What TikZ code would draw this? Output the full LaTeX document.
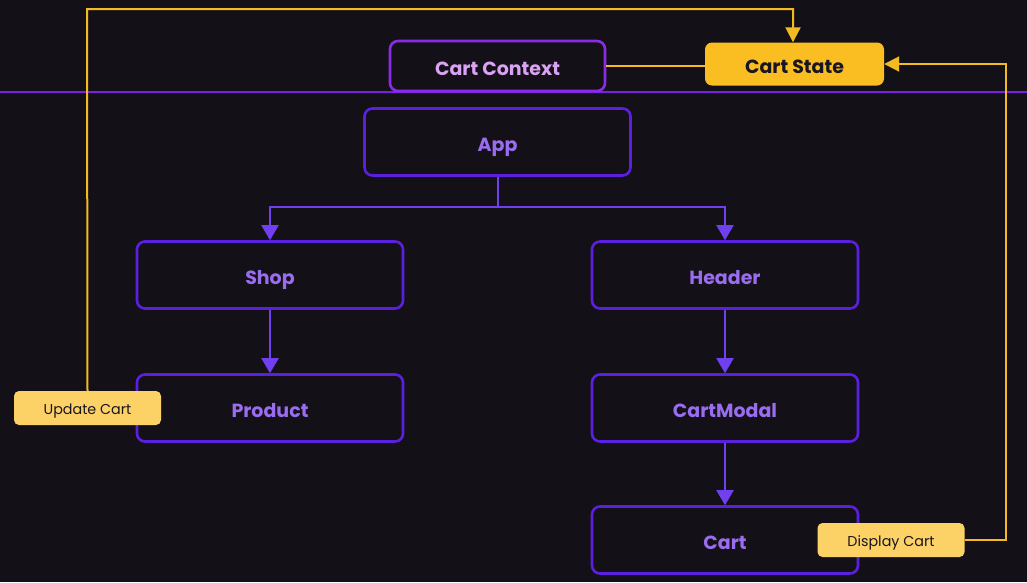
\documentclass[tikz,border=0pt]{standalone}
\usepackage{fontspec}
\setmainfont{Poppins}
\usetikzlibrary{arrows.meta}
\definecolor{bg}{HTML}{131117}
\definecolor{nodeborder}{HTML}{5B1FE0}
\definecolor{nodetext}{HTML}{9A6CF0}
\definecolor{ctxborder}{HTML}{8B2BE8}
\definecolor{ctxtext}{HTML}{D9A2F2}
\definecolor{divider}{HTML}{7A1FE6}
\definecolor{arrowpurple}{HTML}{7040F0}
\definecolor{statefill}{HTML}{FBBE22}
\definecolor{labelfill}{HTML}{FCD266}
\definecolor{yel}{HTML}{F3BA22}
\definecolor{darktext}{HTML}{1A1620}
\tikzset{
  comp/.style={draw=nodeborder, line width=2.6pt, rounded corners=8pt, fill=bg,
    minimum width=266pt, minimum height=67pt, text=nodetext,
    font=\fontsize{19}{22}\selectfont\bfseries, inner sep=0pt,
    text height=18pt, text depth=0pt},
  ctx/.style={draw=ctxborder, line width=2.6pt, rounded corners=8pt, fill=bg,
    minimum width=215pt, minimum height=50pt, text=ctxtext,
    font=\fontsize{19}{22}\selectfont\bfseries, inner sep=0pt,
    text height=18pt, text depth=0pt},
  statebox/.style={fill=statefill, rounded corners=7pt, minimum width=179pt,
    minimum height=43pt, text=darktext, font=\fontsize{19}{22}\selectfont\bfseries,
    inner sep=0pt, text height=18pt, text depth=0pt},
  tag/.style={fill=labelfill, rounded corners=5pt, minimum width=147pt,
    minimum height=34pt, text=darktext, font=\fontsize{14.3}{17}\selectfont,
    inner sep=0pt, text height=12pt, text depth=0pt},
  flow/.style={draw=arrowpurple, line width=2pt, -{Triangle[width=17pt,length=15pt]}},
  flowline/.style={draw=arrowpurple, line width=2pt},
  yflow/.style={draw=yel, line width=2pt, -{Triangle[width=15pt,length=15pt]}},
  yline/.style={draw=yel, line width=2pt},
}
\begin{document}
\begin{tikzpicture}[x=1pt,y=-1pt]
\fill[bg] (0,0) rectangle (1027,582);
\useasboundingbox (0,0) rectangle (1027,582);

% divider line
\coordinate (dl) at (0,92);
\coordinate (dr) at (1027,92);
\draw[divider, line width=2.6pt] (dl) -- (dr);

% nodes
\node[ctx] (ctx) at (497.5,66) {Cart Context};
\node[statebox] (state) at (794.5,64) {Cart State};
\node[comp] (app) at (497.5,142) {App};
\node[comp] (shop) at (270,275) {Shop};
\node[comp] (header) at (725,275) {Header};
\node[comp] (product) at (270,408) {Product};
\node[comp] (modal) at (725,408) {CartModal};
\node[comp] (cart) at (725,540) {Cart};
\node[tag] (update) at (87.5,408) {Update Cart};
\node[tag] (display) at (891,540) {Display Cart};

% purple tree connectors
\coordinate (split) at (497.5,207);
\draw[flowline] (app.south) -- (split);
\draw[flow] (split) -| (shop.north);
\draw[flow] (split) -| (header.north);
\draw[flow] (shop.south) -- (product.north);
\draw[flow] (header.south) -- (modal.north);
\draw[flow] (modal.south) -- (cart.north);

% yellow connectors
\coordinate (ytl) at (87,9);
\coordinate (ytr) at (793,9);
\draw[yflow] (update.north) -- (ytl) -- (ytr) -- (state.north -| ytr);
\coordinate (ybr) at (1006,540);
\coordinate (ytr2) at (1006,64);
\draw[yflow] (display.east) -- (ybr) -- (ytr2) -- (state.east);
\draw[yline] (state.west |- ctx.east) -- (ctx.east);
\end{tikzpicture}
\end{document}
